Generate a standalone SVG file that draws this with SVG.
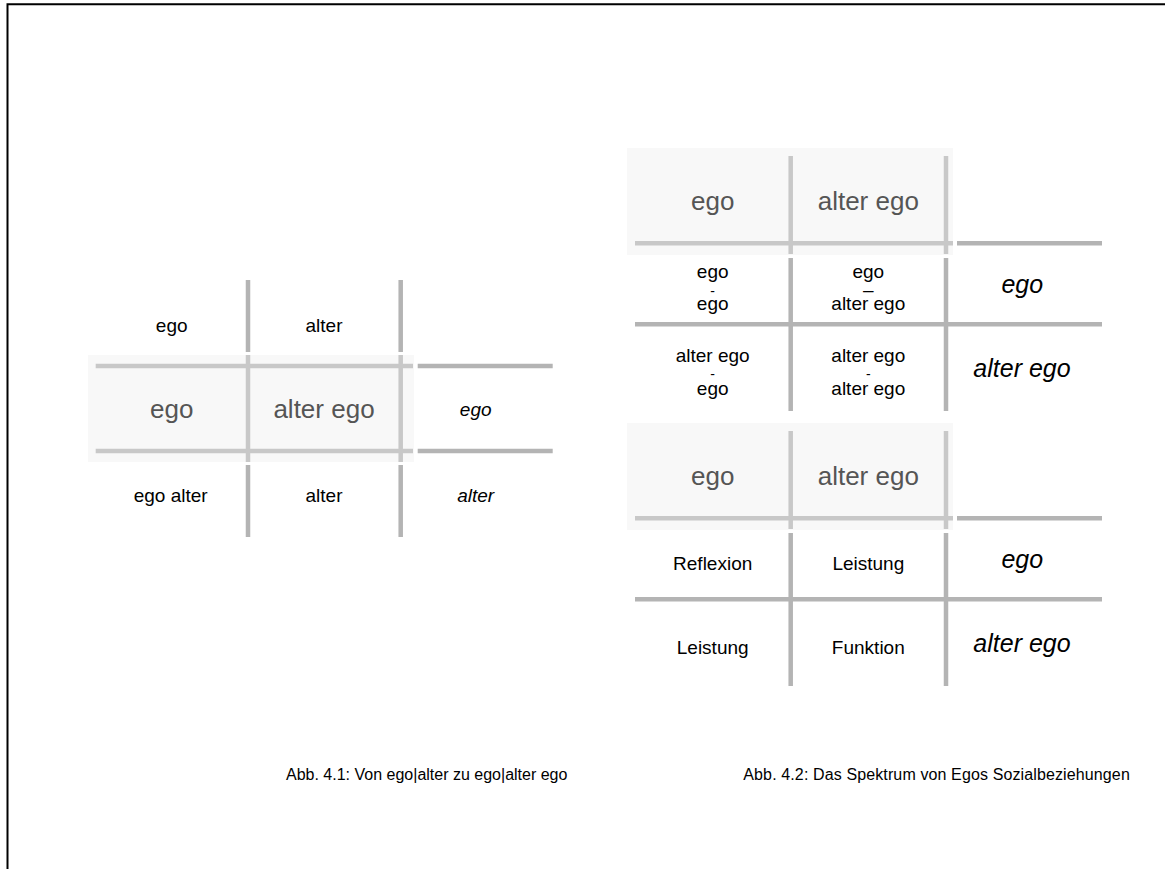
<svg xmlns="http://www.w3.org/2000/svg" width="1165" height="869" viewBox="0 0 1165 869">
<style>
text{font-family:"Liberation Sans",Arial,sans-serif;text-anchor:middle;fill:#000}
.s{font-size:19px}
.b{font-size:26px;fill:#555}
.i19{font-size:19px;font-style:italic}
.i25{font-size:25px;font-style:italic}
.cap{font-size:16px;text-anchor:start}
.dash{font-size:14px}
.d{stroke:#b4b4b4;stroke-width:4.5;fill:none}
.l{stroke:#c8c8c8;stroke-width:4.5;fill:none}
.sh{fill:#f8f8f8}
</style>
<rect width="1165" height="869" fill="#fff"/>
<path d="M7.5 869V4.3H1165" stroke="#000" stroke-width="2" fill="none"/>

<g id="shading">
<rect class="sh" x="88" y="355" width="326" height="107"/>
<rect class="sh" x="627" y="148" width="326" height="107"/>
<rect class="sh" x="627" y="423" width="326" height="107"/>
</g>

<g id="connectors">
<path class="d" d="M248 280V352M400.7 280V352M248 465V537M400.7 465V537M417.7 366H552.7M417.7 451H552.7"/>
<path class="l" d="M248 355V462M400.7 355V462M95.7 366H413M95.7 451H413"/>
<path class="l" d="M790.7 156V254M946 156V254M635 243.3H953"/>
<path class="d" d="M957 243.3H1102M790.7 258V411M946 258V411M635 324.3H1102"/>
<path class="l" d="M790.7 431V529M946 431V529M635 518.3H953"/>
<path class="d" d="M957 518.3H1102M790.7 533V686M946 533V686M635 599.3H1102"/>
</g>

<g id="fig41">
<g id="l-r0c0"><text class="s" x="171.7" y="331.7">ego</text></g>
<g id="l-r0c1"><text class="s" x="324" y="331.7">alter</text></g>
<g id="l-r1c0"><text class="b" x="171.7" y="418">ego</text></g>
<g id="l-r1c1"><text class="b" x="324" y="418">alter ego</text></g>
<g id="l-r1c2"><text class="i19" x="475.7" y="415.7">ego</text></g>
<g id="l-r2c0"><text class="s" x="170.7" y="501.7">ego alter</text></g>
<g id="l-r2c1"><text class="s" x="324" y="501.7">alter</text></g>
<g id="l-r2c2"><text class="i19" x="475.7" y="501.7">alter</text></g>
</g>

<g id="fig42a">
<g id="a-h0"><text class="b" x="712.7" y="210">ego</text></g>
<g id="a-h1"><text class="b" x="868.3" y="210">alter ego</text></g>
<g id="a-r1c0"><text class="s" x="712.7" y="278">ego<tspan class="dash" x="712.7" y="295.5">-</tspan><tspan x="712.7" y="310">ego</tspan></text></g>
<g id="a-r1c1"><text class="s" x="868.3" y="278">ego<tspan x="868.3" y="295.5">–</tspan><tspan x="868.3" y="310">alter ego</tspan></text></g>
<g id="a-r1c2"><text class="i25" x="1022.3" y="293.3">ego</text></g>
<g id="a-r2c0"><text class="s" x="712.7" y="361.7">alter ego<tspan class="dash" x="712.7" y="379">-</tspan><tspan x="712.7" y="395">ego</tspan></text></g>
<g id="a-r2c1"><text class="s" x="868.3" y="361.7">alter ego<tspan class="dash" x="868.3" y="379">-</tspan><tspan x="868.3" y="395">alter ego</tspan></text></g>
<g id="a-r2c2"><text class="i25" x="1022" y="377.3">alter ego</text></g>
</g>

<g id="fig42b">
<g id="b-h0"><text class="b" x="712.7" y="485">ego</text></g>
<g id="b-h1"><text class="b" x="868.3" y="485">alter ego</text></g>
<g id="b-r1c0"><text class="s" x="712.7" y="570">Reflexion</text></g>
<g id="b-r1c1"><text class="s" x="868.3" y="570">Leistung</text></g>
<g id="b-r1c2"><text class="i25" x="1022.3" y="568.3">ego</text></g>
<g id="b-r2c0"><text class="s" x="712.7" y="654">Leistung</text></g>
<g id="b-r2c1"><text class="s" x="868.3" y="654">Funktion</text></g>
<g id="b-r2c2"><text class="i25" x="1022" y="652.3">alter ego</text></g>
</g>

<g id="captions">
<g id="cap1"><text class="cap" x="286" y="779.5">Abb. 4.1: Von ego|alter zu ego|alter ego</text></g>
<g id="cap2"><text class="cap" x="743.3" y="779.5" textLength="386.5">Abb. 4.2: Das Spektrum von Egos Sozialbeziehungen</text></g>
</g>
</svg>
